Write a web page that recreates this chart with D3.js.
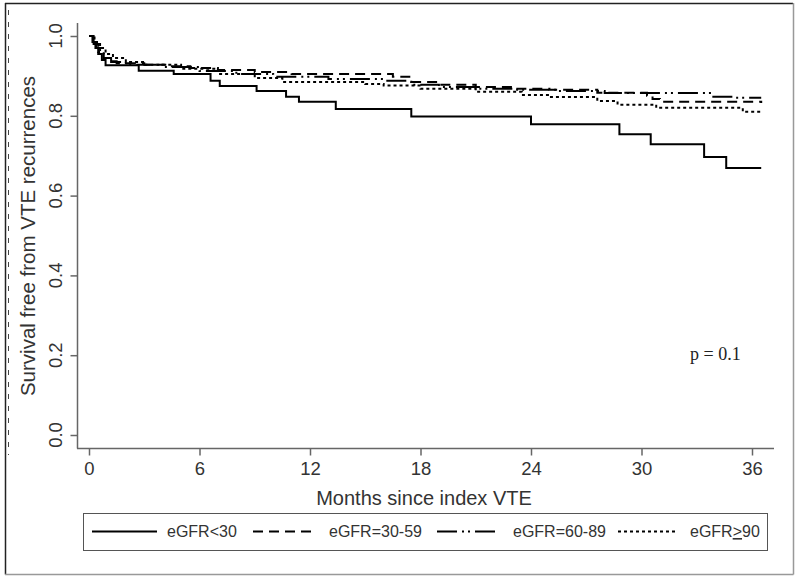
<!DOCTYPE html>
<html><head><meta charset="utf-8">
<script src="https://cdn.jsdelivr.net/npm/d3@7/dist/d3.min.js"></script>
<style>body{margin:0;background:#fff}svg{display:block}</style>
</head><body>
<svg id="c" width="800" height="580"></svg>
<script>
// ---- data ----
const groups = ["eGFR<30", "eGFR=30-59", "eGFR=60-89", "eGFR>90"];
const xTicks = [0, 6, 12, 18, 24, 30, 36];
const yTicks = [0.0, 0.2, 0.4, 0.6, 0.8, 1.0];

const t30 = [0, 0.2, 0.35, 0.5, 0.7, 0.9, 2.7, 4.6, 6.6, 7.1, 9.1, 10.7, 11.4, 13.4, 17.5, 24.0, 28.8, 30.5, 33.4, 34.6, 36.5];
const s30 = [1.0, 0.985, 0.97, 0.955, 0.94, 0.927, 0.913, 0.905, 0.888, 0.875, 0.862, 0.848, 0.835, 0.817, 0.798, 0.779, 0.754, 0.729, 0.697, 0.669, 0.669];

const t3059 = [0, 0.2, 0.4, 0.6, 0.8, 1.1, 1.5, 3.0, 4.5, 5.5, 7.0, 9.0, 11.0, 16.5, 17.5, 19.0, 21.0, 23.0, 25.0, 27.6, 30.3, 30.6, 31.0, 36.5];
const s3059 = [1.0, 0.985, 0.97, 0.955, 0.945, 0.937, 0.932, 0.928, 0.924, 0.92, 0.915, 0.91, 0.905, 0.898, 0.885, 0.878, 0.872, 0.868, 0.865, 0.858, 0.85, 0.842, 0.835, 0.832];

const t6089 = [0, 0.25, 0.5, 0.8, 1.2, 2.0, 4.0, 6.0, 8.0, 10.0, 13.0, 16.0, 17.5, 19.0, 21.0, 23.0, 25.5, 28.0, 33.9, 35.0, 36.5];
const s6089 = [1.0, 0.98, 0.96, 0.945, 0.935, 0.928, 0.922, 0.912, 0.905, 0.898, 0.892, 0.888, 0.878, 0.872, 0.868, 0.865, 0.862, 0.857, 0.848, 0.845, 0.845];

const t90 = [0, 0.3, 0.6, 0.9, 1.3, 2.0, 3.0, 5.0, 7.0, 9.0, 10.5, 15.0, 16.0, 18.0, 21.0, 23.5, 25.0, 27.6, 28.7, 30.8, 35.5, 36.5];
const s90 = [1.0, 0.985, 0.97, 0.955, 0.945, 0.935, 0.928, 0.918, 0.905, 0.895, 0.885, 0.88, 0.876, 0.868, 0.86, 0.852, 0.847, 0.837, 0.828, 0.82, 0.81, 0.81];

const times = [t30, t3059, t6089, t90];
const surv = [s30, s3059, s6089, s90];
const dashes = [null, "10,6", "20,5,2,4,2,5", "3,3"];

// ---- drawing ----
const svg = d3.select("#c");
const font = "'Liberation Sans', Arial, sans-serif";
const axisCol = "#666";
const textCol = "#333";

// outer frame
svg.append("line").attr("x1",5).attr("y1",3.5).attr("x2",793).attr("y2",3.5).attr("stroke","#222").attr("stroke-width",1.5);
svg.append("line").attr("x1",5.5).attr("y1",3).attr("x2",5.5).attr("y2",574.5).attr("stroke","#222").attr("stroke-width",1.5);
svg.append("line").attr("x1",793.5).attr("y1",3).attr("x2",793.5).attr("y2",574.5).attr("stroke","#999").attr("stroke-width",1.5);
svg.append("line").attr("x1",5).attr("y1",574.5).attr("x2",793.5).attr("y2",574.5).attr("stroke","#999").attr("stroke-width",1.5);
// faint dashed line near the left edge
svg.append("line").attr("x1",8.5).attr("y1",10).attr("x2",8.5).attr("y2",455)
  .attr("stroke","#444").attr("stroke-width",1).attr("stroke-dasharray","5,7");

const x = d3.scaleLinear().domain([0, 36]).range([89, 752]);
const y = d3.scaleLinear().domain([0, 1]).range([435, 36]);

// y axis
svg.append("line").attr("x1",77.5).attr("x2",77.5).attr("y1",23).attr("y2",448.5).attr("stroke",axisCol).attr("stroke-width",1.5);
const yAxis = svg.append("g").attr("transform","translate(77.5,0)")
  .call(d3.axisLeft(y).tickValues(yTicks).tickFormat(d3.format(".1f")).tickSize(7).tickPadding(0));
yAxis.select(".domain").remove();
yAxis.selectAll(".tick line").attr("stroke",axisCol).attr("stroke-width",1.5);
yAxis.selectAll(".tick text").remove();
yTicks.forEach(v => {
  svg.append("text").attr("transform",`translate(62,${y(v)}) rotate(-90)`)
    .attr("text-anchor","middle").attr("font-family",font).attr("font-size",18.5)
    .attr("fill",textCol).text(d3.format(".1f")(v));
});

// x axis
svg.append("line").attr("x1",77).attr("x2",774).attr("y1",448.5).attr("y2",448.5).attr("stroke",axisCol).attr("stroke-width",1.5);
const xAxis = svg.append("g").attr("transform","translate(0,448.5)")
  .call(d3.axisBottom(x).tickValues(xTicks).tickSize(7).tickPadding(6));
xAxis.select(".domain").remove();
xAxis.selectAll(".tick line").attr("stroke",axisCol).attr("stroke-width",1.5);
xAxis.selectAll(".tick text").attr("font-family",font).attr("font-size",18.5).attr("fill",textCol);

// axis titles
svg.append("text").attr("x",424).attr("y",505).attr("text-anchor","middle")
  .attr("font-family",font).attr("font-size",20).attr("fill",textCol).text("Months since index VTE");
svg.append("text").attr("transform","translate(35,236) rotate(-90)").attr("text-anchor","middle")
  .attr("font-family",font).attr("font-size",20.5).attr("fill",textCol).text("Survival free from VTE recurrences");

// curves
const line = d3.line().x(d => x(d[0])).y(d => y(d[1])).curve(d3.curveStepAfter);
groups.forEach((g, i) => {
  const pts = times[i].map((t, j) => [t, surv[i][j]]);
  svg.append("path").datum(pts).attr("d", line).attr("fill","none")
    .attr("stroke","#000").attr("stroke-width",2)
    .attr("stroke-dasharray", dashes[i]);
});

// p value
svg.append("text").attr("x",690).attr("y",360).attr("font-family","'Liberation Serif', 'Times New Roman', serif")
  .attr("font-size",18).attr("fill","#222").text("p = 0.1");

// legend
svg.append("rect").attr("x",83.5).attr("y",513.5).attr("width",684).attr("height",37)
  .attr("fill","none").attr("stroke","#555").attr("stroke-width",1);
const legLine = [[92,157],[253,314],[437,500],[618,678]];
const legText = [167, 329, 513, 690];
groups.forEach((g, i) => {
  svg.append("line").attr("x1",legLine[i][0]).attr("x2",legLine[i][1]).attr("y1",531.5).attr("y2",531.5)
    .attr("stroke","#000").attr("stroke-width",2).attr("stroke-dasharray",dashes[i]);
  const t = svg.append("text").attr("x",legText[i]).attr("y",537).attr("font-family",font)
    .attr("font-size",16).attr("fill",textCol);
  if (i === 3) {
    t.append("tspan").text("eGFR");
    t.append("tspan").attr("text-decoration","underline").text(">");
    t.append("tspan").text("90");
  } else {
    t.text(g);
  }
});
</script>
</body></html>
